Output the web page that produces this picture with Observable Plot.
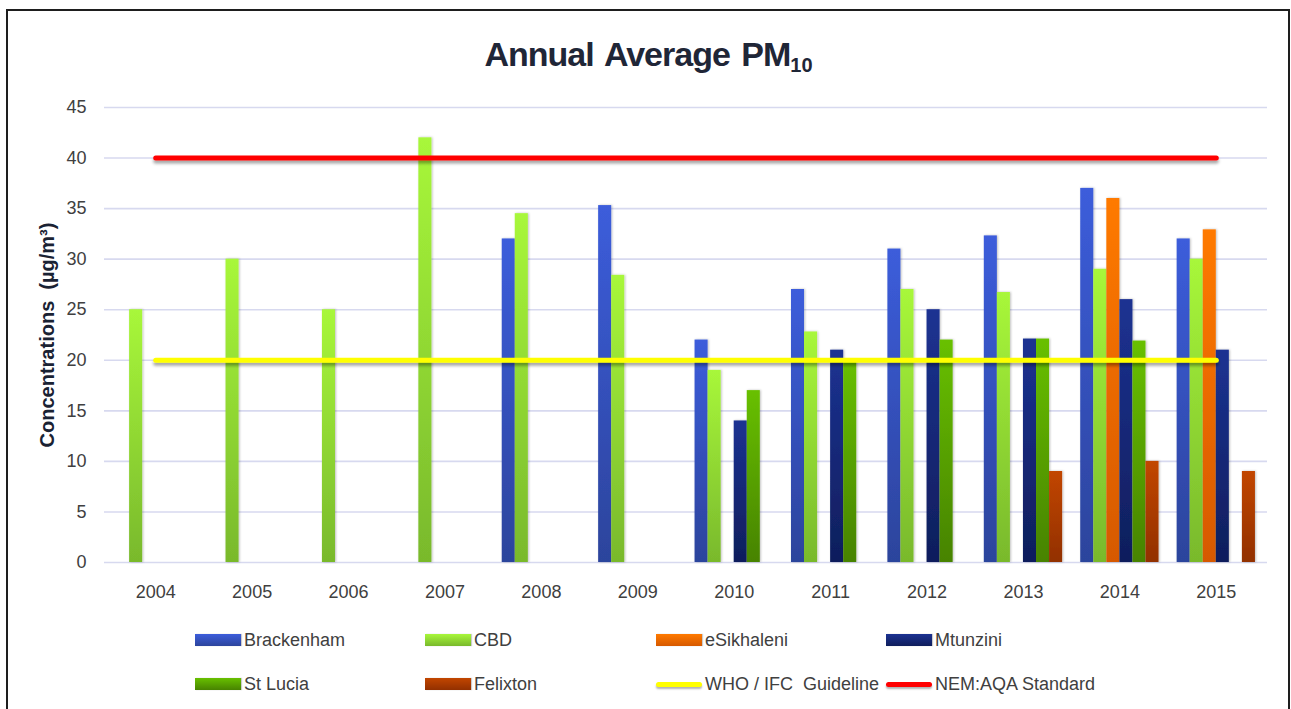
<!DOCTYPE html>
<html>
<head>
<meta charset="utf-8">
<script src="https://cdn.jsdelivr.net/npm/d3@7"></script>
<script src="https://cdn.jsdelivr.net/npm/@observablehq/plot@0.6"></script>
<style>
  html, body { margin: 0; padding: 0; background: #ffffff; }
  body { position: relative; width: 1291px; height: 709px; overflow: hidden;
         font-family: "Liberation Sans", Arial, sans-serif; }
  #frame { position: absolute; left: 6px; top: 9px; width: 1284px; height: 720px;
           border: 2px solid #1e1e1e; border-bottom: none; box-sizing: border-box; }
  #title { position: absolute; left: 0; top: 37px; width: 1297px; text-align: center;
           font-weight: bold; font-size: 34px; line-height: 34px; letter-spacing: -1px; word-spacing: 3px;
           color: #1f2637; white-space: pre; }
  #title sub { font-size: 20px; vertical-align: -6px; line-height: 0; letter-spacing: 0; }
  #chart { position: absolute; left: 0; top: 80px; }
  .leg { position: absolute; height: 30px; display: flex; align-items: center; white-space: pre;
         font-size: 18px; color: #404040; }
  .sw { position: absolute; }
</style>
</head>
<body>
<div id="frame"></div>
<div id="title">Annual Average PM<sub>10</sub></div>
<div id="chart"></div>
<div id="legend"></div>
<script>
// ---------- data ----------
const years = [2004, 2005, 2006, 2007, 2008, 2009, 2010, 2011, 2012, 2013, 2014, 2015];
const series = ["Brackenham", "CBD", "eSikhaleni", "Mtunzini", "St Lucia", "Felixton"];
const brackenham = [null, null, null, null, 32, 35.3, 22, 27, 31, 32.3, 37, 32];
const cbd        = [25, 30, 25, 42, 34.5, 28.4, 19, 22.8, 27, 26.7, 29, 30];
const esikhaleni = [null, null, null, null, null, null, null, null, null, null, 36, 32.9];
const mtunzini   = [null, null, null, null, null, null, 14, 21, 25, 22.1, 26, 21];
const stLucia    = [null, null, null, null, null, null, 17, 20, 22, 22.1, 21.9, null];
const felixton   = [null, null, null, null, null, null, null, null, null, 9, 10, 9];
const seriesValues = [brackenham, cbd, esikhaleni, mtunzini, stLucia, felixton];
const guidelineNames = ["WHO / IFC  Guideline", "NEM:AQA Standard"];
const guidelineValues = [20, 40];
const yTicks = [0, 5, 10, 15, 20, 25, 30, 35, 40, 45];
const yLabel = "Concentrations  (µg/m³)";

// ---------- styles ----------
const gradTop    = ["#3c5ddb", "#a8f73a", "#ff7a00", "#1c3292", "#68c000", "#c24600"];
const gradBottom = ["#2c449c", "#79b92c", "#d65900", "#0f1e5c", "#478300", "#923000"];
const lineColors = ["#ffff00", "#ff0000"];

// ---------- table ----------
const rows = series.map((s, i) =>
  years.map((yr, j) => ({series: s, year: yr, value: seriesValues[i][j]})).filter(d => d.value != null)
);
const guideRows = guidelineNames.map((n, k) => years.map(yr => ({name: n, year: yr, value: guidelineValues[k]})));

// ---------- layout ----------
const W = 1291, H = 530;
const mL = 107, mR = 27, mT = 27, mB = 48;
const band = (W - mL - mR) / years.length;
const slot = 13.05;
const outer = (band - slot * series.length) / 2;

const ns = "http://www.w3.org/2000/svg";
function defsMark() {
  const defs = document.createElementNS(ns, "defs");
  series.forEach((s, i) => {
    const g = document.createElementNS(ns, "linearGradient");
    g.setAttribute("id", "grad" + i);
    g.setAttribute("x1", "0"); g.setAttribute("y1", "0");
    g.setAttribute("x2", "0"); g.setAttribute("y2", "1");
    [[0, gradTop[i]], [1, gradBottom[i]]].forEach(([o, c]) => {
      const st = document.createElementNS(ns, "stop");
      st.setAttribute("offset", o);
      st.setAttribute("stop-color", c);
      g.appendChild(st);
    });
    defs.appendChild(g);
  });
  const mk = (id, dx, dy, sd, op) => {
    const f = document.createElementNS(ns, "filter");
    f.setAttribute("id", id);
    f.setAttribute("filterUnits", "userSpaceOnUse");
    f.setAttribute("x", "0"); f.setAttribute("y", "0");
    f.setAttribute("width", W); f.setAttribute("height", H);
    const ds = document.createElementNS(ns, "feDropShadow");
    ds.setAttribute("dx", dx); ds.setAttribute("dy", dy);
    ds.setAttribute("stdDeviation", sd);
    ds.setAttribute("flood-color", "#000");
    ds.setAttribute("flood-opacity", op);
    f.appendChild(ds);
    defs.appendChild(f);
  };
  mk("lineShadow", 0, 3, 1.6, 0.35);
  mk("barShadow", 1, 0, 0.8, 0.25);
  return defs;
}

const barMarks = series.map((s, i) =>
  Plot.barY(rows[i], {
    x: "year", y: "value",
    fill: `url(#grad${i})`,
    insetLeft: outer + i * slot,
    insetRight: outer + (series.length - 1 - i) * slot
  })
);

const lineMarks = guidelineNames.map((n, k) =>
  Plot.lineY(guideRows[k], {x: "year", y: "value", stroke: lineColors[k], strokeWidth: 5, strokeLinecap: "round"})
);

const chart = Plot.plot({
  width: W, height: H,
  marginLeft: mL, marginRight: mR, marginTop: mT, marginBottom: mB,
  style: {background: "transparent", color: "#404040", fontSize: "18px",
          fontFamily: '"Liberation Sans", Arial, sans-serif'},
  x: {domain: years, padding: 0, round: false, label: null},
  y: {domain: [0, 45], label: null},
  marks: [
    defsMark,
    Plot.ruleY(yTicks, {stroke: "#d7d9ef", strokeWidth: 1.6, insetLeft: -3, insetRight: -3}),
    ...barMarks,
    ...lineMarks,
    Plot.axisX({tickSize: 0, tickPadding: 23, fontSize: 18, fill: "#404040", tickFormat: d => String(d)}),
    Plot.axisY({ticks: yTicks, tickSize: 0, tickPadding: 21, fontSize: 18, fill: "#404040"}),
    Plot.text([yLabel], {frameAnchor: "left", dx: -60, rotate: -90, textAnchor: "middle", fontSize: 20,
      fontWeight: "bold", fontFamily: '"Liberation Sans", Arial, sans-serif', fill: "#1a2233"})
  ]
});
chart.querySelectorAll('g[aria-label="bar"]').forEach(g => g.setAttribute("filter", "url(#barShadow)"));
chart.querySelectorAll('g[aria-label="line"]').forEach(g => g.setAttribute("filter", "url(#lineShadow)"));
document.getElementById("chart").appendChild(chart);

// ---------- legend ----------
const legend = document.getElementById("legend");
const colX = [195, 425, 656, 886];
const rowY = [640, 684];
const items = [
  ...series.map((s, i) => ({name: s, kind: "bar", i})),
  ...guidelineNames.map((n, k) => ({name: n, kind: "line", k}))
];
items.forEach((it, idx) => {
  const cx = colX[idx % 4], cy = rowY[Math.floor(idx / 4)];
  const sw = document.createElement("div");
  sw.className = "sw";
  if (it.kind === "bar") {
    sw.style.cssText = `left:${cx}px;top:${cy - 6}px;width:46px;height:12px;` +
      `background:linear-gradient(to bottom, ${gradTop[it.i]}, ${gradBottom[it.i]});` +
      `box-shadow:1px 0 1px rgba(0,0,0,0.2);`;
  } else {
    sw.style.cssText = `left:${cx}px;top:${cy - 2.5}px;width:46px;height:5px;border-radius:2.5px;` +
      `background:${lineColors[it.k]};box-shadow:0 2px 2px rgba(0,0,0,0.3);`;
  }
  legend.appendChild(sw);
  const t = document.createElement("div");
  t.className = "leg";
  t.style.left = (cx + 49) + "px";
  t.style.top = (cy - 15) + "px";
  t.textContent = it.name;
  legend.appendChild(t);
});
</script>
</body>
</html>
